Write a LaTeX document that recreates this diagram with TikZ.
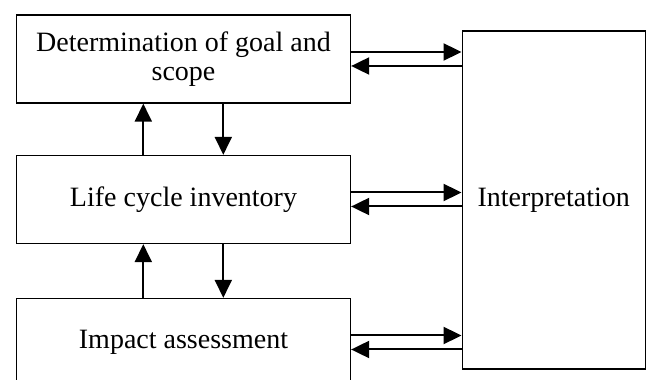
\documentclass[tikz,border=0pt]{standalone}
\usepackage{fontspec}
\setmainfont{Liberation Serif}
\usetikzlibrary{arrows.meta}

\begin{document}
\begin{tikzpicture}[x=1pt,y=1pt,
  box/.style={draw, line width=1.3pt, minimum width=334pt, minimum height=88pt,
    inner sep=0pt, align=center, font=\fontsize{28}{29.5}\selectfont},
  arr/.style={line width=2pt, -{Triangle[length=18pt,width=17pt]}}]
\clip (0,0) rectangle (648,380);
\node [box] (goal) at (183.5,321) {Determination of goal and\\scope};
\node [box] (lci) at (183.5,180.5) {Life cycle inventory};
\node [box] (lcia) at (183.5,37.5) {Impact assessment};
\node [box, minimum width=183pt, minimum height=338pt] (interp) at (553.7,180) {Interpretation};
\coordinate (up) at (143.3,0);
\coordinate (dn) at (223.3,0);
% arrows to and from interpretation
\foreach \b in {goal,lci,lcia} {
  \draw [arr] ([yshift=7pt]\b.east) -- ([yshift=7pt]\b.east -| interp.west);
  \draw [arr] ([yshift=-7pt]\b.east -| interp.west) -- ([yshift=-7pt]\b.east);
}
% arrows between the phases
\foreach \u/\l in {goal/lci,lci/lcia} {
  \draw [arr] (\l.north -| up) -- (\u.south -| up);
  \draw [arr] (\u.south -| dn) -- (\l.north -| dn);
}
\end{tikzpicture}
\end{document}
